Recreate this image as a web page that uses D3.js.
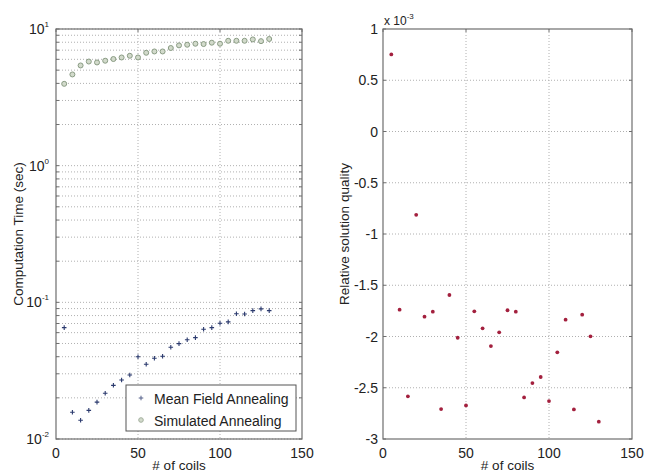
<!DOCTYPE html>
<html>
<head>
<meta charset="utf-8">
<script src="https://cdn.jsdelivr.net/npm/d3@7"></script>
<style>
  body { margin: 0; background: #fff; }
  svg { font-family: "Liberation Sans", Arial, Helvetica, sans-serif; }
  .grid line { stroke: #b0b0b0; stroke-dasharray: 1,2; stroke-width: 1; }
</style>
</head>
<body>
<svg width="645" height="476"></svg>
<script>
// number of coils (shared x values)
const coils = [5,10,15,20,25,30,35,40,45,50,55,60,65,70,75,80,85,90,95,100,105,110,115,120,125,130];

// computation time (sec)
const mfaTime = [0.0653,0.0157,0.0137,0.0162,0.0186,0.0216,0.0247,0.0270,0.0294,0.0400,0.0352,0.0390,0.0403,
  0.0469,0.0499,0.0533,0.0552,0.0635,0.0653,0.0703,0.0719,0.0826,0.0822,0.0869,0.0895,0.0869];
const saTime = [3.97,4.65,5.41,5.78,5.69,5.86,6.03,6.19,6.37,6.19,6.70,6.85,6.85,7.26,7.59,7.67,7.80,7.76,
  7.94,7.80,8.20,8.20,8.20,8.39,8.15,8.45];

// relative solution quality (x 10^-3)
const quality = [0.752,-1.738,-2.584,-0.813,-1.807,-1.758,-2.708,-1.595,-2.012,-2.672,-1.754,-1.920,-2.093,
  -1.959,-1.744,-1.758,-2.594,-2.454,-2.395,-2.630,-2.154,-1.836,-2.711,-1.787,-1.998,-2.831];

const xTicks = [0, 50, 100, 150];
const logTicks = [-2, -1, 0, 1];
const qTicks = [-3, -2.5, -2, -1.5, -1, -0.5, 0, 0.5, 1];
const legendLabels = ["Mean Field Annealing", "Simulated Annealing"];

const svg = d3.select("svg");
const axisColor = "#6e6e6e";
const plus = d3.symbol().type(d3.symbolPlus).size(8);

// ---------- left panel ----------
const L = {left: 56, right: 302, top: 29, bottom: 439};
const xL = d3.scaleLinear().domain([0, 150]).range([L.left, L.right]);
const yL = d3.scaleLog().domain([0.01, 10]).range([L.bottom, L.top]);

const minorL = [];
for (let e = -2; e < 1; e++) for (let m = 1; m < 10; m++) minorL.push(m * Math.pow(10, e));
minorL.push(10);

let g = svg.append("g").attr("class", "grid");
g.selectAll(".hy").data(minorL).join("line")
  .attr("x1", L.left).attr("x2", L.right)
  .attr("y1", d => yL(d)).attr("y2", d => yL(d));
g.selectAll(".vx").data(xTicks.slice(1, -1)).join("line")
  .attr("x1", d => xL(d)).attr("x2", d => xL(d))
  .attr("y1", L.top).attr("y2", L.bottom);

// frame
svg.append("rect").attr("x", L.left).attr("y", L.top)
  .attr("width", L.right - L.left).attr("height", L.bottom - L.top)
  .attr("fill", "none").attr("stroke", axisColor).attr("stroke-width", 1.2);

// tick marks on the frame
svg.append("g").selectAll("line").data(minorL).join("line")
  .attr("x1", L.left).attr("x2", L.left + 3)
  .attr("y1", d => yL(d)).attr("y2", d => yL(d)).attr("stroke", axisColor);
svg.append("g").selectAll("line").data(minorL).join("line")
  .attr("x1", L.right - 3).attr("x2", L.right)
  .attr("y1", d => yL(d)).attr("y2", d => yL(d)).attr("stroke", axisColor);
svg.append("g").selectAll("line").data(xTicks).join("line")
  .attr("x1", d => xL(d)).attr("x2", d => xL(d))
  .attr("y1", L.top).attr("y2", L.top + 3).attr("stroke", axisColor);

// x tick labels
svg.append("g").selectAll("text").data(xTicks).join("text")
  .attr("x", d => xL(d)).attr("y", L.bottom + 19)
  .attr("text-anchor", "middle").attr("font-size", 14).attr("fill", "#222")
  .text(d => d);

// y tick labels 10^n
const yLab = svg.append("g").selectAll("text").data(logTicks).join("text")
  .attr("x", L.left - 7).attr("y", d => yL(Math.pow(10, d)) + 5)
  .attr("text-anchor", "end").attr("font-size", 14).attr("fill", "#222");
yLab.append("tspan").text("10");
yLab.append("tspan").attr("dy", -7).attr("font-size", 8).text(d => d);

svg.append("text").attr("transform", `translate(23,${(L.top + L.bottom) / 2}) rotate(-90)`)
  .attr("text-anchor", "middle").attr("font-size", 13.5).attr("fill", "#222")
  .text("Computation Time (sec)");
svg.append("text").attr("x", (L.left + L.right) / 2).attr("y", 470)
  .attr("text-anchor", "middle").attr("font-size", 13.5).attr("fill", "#222")
  .text("# of coils");

// markers
svg.append("g").selectAll("path").data(coils).join("path")
  .attr("transform", (d, i) => `translate(${xL(d)},${yL(mfaTime[i])})`)
  .attr("d", plus)
  .attr("fill", "none").attr("stroke", "#2b3a6e").attr("stroke-width", 1.1);
svg.append("g").selectAll("circle").data(coils).join("circle")
  .attr("cx", d => xL(d)).attr("cy", (d, i) => yL(saTime[i])).attr("r", 2.5)
  .attr("fill", "#d2dacb").attr("stroke", "#8a9c84").attr("stroke-width", 1);

// legend
const lg = svg.append("g");
lg.append("rect").attr("x", 126).attr("y", 385).attr("width", 170).attr("height", 46)
  .attr("fill", "#fff").attr("stroke", "#555").attr("stroke-width", 1);
lg.append("path").attr("transform", "translate(141,398)").attr("d", plus)
  .attr("fill", "none").attr("stroke", "#55608a").attr("stroke-width", 1);
lg.append("circle").attr("cx", 141).attr("cy", 420).attr("r", 2.3)
  .attr("fill", "#d2dacb").attr("stroke", "#a4b09e");
lg.selectAll("text").data(legendLabels).join("text")
  .attr("x", 154).attr("y", (d, i) => 404 + i * 22)
  .attr("font-size", 14).attr("fill", "#222").text(d => d);

// ---------- right panel ----------
const R = {left: 383, right: 632, top: 29, bottom: 439};
const xR = d3.scaleLinear().domain([0, 150]).range([R.left, R.right]);
const yR = d3.scaleLinear().domain([-3, 1]).range([R.bottom, R.top]);

g = svg.append("g").attr("class", "grid");
g.selectAll(".hy").data(qTicks.slice(1, -1)).join("line")
  .attr("x1", R.left).attr("x2", R.right)
  .attr("y1", d => yR(d)).attr("y2", d => yR(d));
g.selectAll(".vx").data(xTicks.slice(1, -1)).join("line")
  .attr("x1", d => xR(d)).attr("x2", d => xR(d))
  .attr("y1", R.top).attr("y2", R.bottom);

svg.append("rect").attr("x", R.left).attr("y", R.top)
  .attr("width", R.right - R.left).attr("height", R.bottom - R.top)
  .attr("fill", "none").attr("stroke", axisColor).attr("stroke-width", 1.2);

svg.append("g").selectAll("line").data(qTicks).join("line")
  .attr("x1", R.left).attr("x2", R.left + 3)
  .attr("y1", d => yR(d)).attr("y2", d => yR(d)).attr("stroke", axisColor);
svg.append("g").selectAll("line").data(qTicks).join("line")
  .attr("x1", R.right - 3).attr("x2", R.right)
  .attr("y1", d => yR(d)).attr("y2", d => yR(d)).attr("stroke", axisColor);
svg.append("g").selectAll("line").data(xTicks).join("line")
  .attr("x1", d => xR(d)).attr("x2", d => xR(d))
  .attr("y1", R.top).attr("y2", R.top + 3).attr("stroke", axisColor);

svg.append("g").selectAll("text").data(xTicks).join("text")
  .attr("x", d => xR(d)).attr("y", R.bottom + 19)
  .attr("text-anchor", "middle").attr("font-size", 14).attr("fill", "#222")
  .text(d => d);
svg.append("g").selectAll("text").data(qTicks).join("text")
  .attr("x", R.left - 5).attr("y", d => yR(d) + 5)
  .attr("text-anchor", "end").attr("font-size", 14).attr("fill", "#222")
  .text(d => d);

const mult = svg.append("text").attr("x", R.left + 1).attr("y", 25)
  .attr("font-size", 12).attr("fill", "#222");
mult.append("tspan").text("x 10");
mult.append("tspan").attr("dy", -6).attr("font-size", 8).text("-3");

svg.append("text").attr("transform", `translate(349,${(R.top + R.bottom) / 2}) rotate(-90)`)
  .attr("text-anchor", "middle").attr("font-size", 13.5).attr("fill", "#222")
  .text("Relative solution quality");
svg.append("text").attr("x", (R.left + R.right) / 2).attr("y", 470)
  .attr("text-anchor", "middle").attr("font-size", 13.5).attr("fill", "#222")
  .text("# of coils");

svg.append("g").selectAll("circle").data(coils).join("circle")
  .attr("cx", d => xR(d)).attr("cy", (d, i) => yR(quality[i])).attr("r", 1.9)
  .attr("fill", "#a3203e");
</script>
</body>
</html>
